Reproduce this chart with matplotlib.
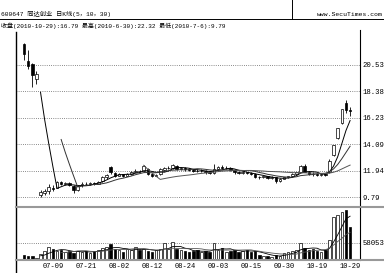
import numpy as np
import pandas as pd
import matplotlib
matplotlib.use("Agg")
import matplotlib.pyplot as plt
from matplotlib.lines import Line2D

# ---------------- data ----------------
holidays = ["2010-09-22", "2010-09-23", "2010-09-24", "2010-10-01",
            "2010-10-04", "2010-10-05", "2010-10-06", "2010-10-07"]
dates = [d for d in pd.bdate_range("2010-06-30", "2010-10-29")
         if d.strftime("%Y-%m-%d") not in holidays]

opens = [22.20, 20.85, 20.60, 19.40, 10.00, 10.15, 10.30, 10.55, 10.55, 11.00,
         10.85, 10.95, 10.70, 10.40, 10.75, 10.90, 10.85, 10.95, 10.90, 11.10,
         11.40, 12.25, 11.75, 11.55, 11.65, 11.55, 11.70, 11.85, 11.95, 11.90,
         12.10, 11.70, 11.55, 11.65, 12.00, 12.15, 12.15, 12.35, 12.05, 12.20,
         12.05, 12.00, 11.95, 11.90, 11.95, 11.80, 11.75, 12.05, 12.25, 12.15,
         12.20, 12.00, 11.80, 11.75, 11.80, 11.75, 11.70, 11.45, 11.40, 11.50,
         11.35, 11.40, 11.10, 11.30, 11.40, 11.50, 11.70, 11.85, 12.35, 11.85,
         11.70, 11.65, 11.60, 11.65, 11.85, 13.20, 14.60, 15.80, 17.45, 16.85]
highs = [22.32, 21.70, 20.70, 20.00, 10.35, 10.45, 10.85, 10.80, 11.10, 11.10,
         11.05, 11.00, 10.75, 10.75, 11.00, 11.00, 11.00, 11.05, 11.10, 11.55,
         11.70, 12.35, 11.85, 11.75, 11.70, 11.75, 11.95, 12.05, 12.00, 12.40,
         12.15, 11.75, 11.70, 12.20, 12.25, 12.30, 12.50, 12.40, 12.25, 12.25,
         12.15, 12.10, 12.05, 12.05, 12.00, 11.90, 12.45, 12.35, 12.40, 12.30,
         12.25, 12.05, 11.90, 11.90, 11.85, 11.85, 11.75, 11.55, 11.55, 11.55,
         11.50, 11.45, 11.35, 11.45, 11.55, 11.75, 11.85, 12.40, 12.45, 11.90,
         11.80, 11.75, 11.75, 11.70, 12.85, 14.00, 15.40, 16.94, 17.70, 17.10]
lows = [20.95, 20.20, 18.70, 19.00, 9.79, 10.00, 10.05, 10.30, 10.50, 10.80,
        10.75, 10.70, 10.15, 10.30, 10.65, 10.75, 10.80, 10.80, 10.85, 11.00,
        11.30, 11.70, 11.45, 11.50, 11.45, 11.50, 11.60, 11.80, 11.80, 11.85,
        11.60, 11.45, 11.50, 11.60, 11.95, 12.05, 12.10, 12.00, 12.00, 11.95,
        11.90, 11.85, 11.80, 11.85, 11.70, 11.65, 11.70, 12.00, 12.05, 12.05,
        11.95, 11.70, 11.65, 11.70, 11.65, 11.60, 11.35, 11.30, 11.35, 11.30,
        11.30, 10.95, 11.05, 11.25, 11.35, 11.45, 11.60, 11.80, 11.80, 11.60,
        11.55, 11.50, 11.55, 11.50, 11.75, 13.10, 14.50, 15.70, 16.60, 16.40]
closes = [21.40, 20.40, 19.70, 19.80, 10.20, 10.30, 10.60, 10.45, 11.00, 10.85,
          10.95, 10.75, 10.40, 10.70, 10.90, 10.85, 10.95, 10.90, 11.05, 11.45,
          11.60, 11.80, 11.55, 11.65, 11.55, 11.70, 11.85, 11.95, 11.90, 12.30,
          11.70, 11.55, 11.60, 12.10, 12.15, 12.20, 12.40, 12.05, 12.20, 12.05,
          12.00, 11.95, 11.90, 11.95, 11.80, 11.75, 12.10, 12.25, 12.15, 12.20,
          12.00, 11.80, 11.75, 11.80, 11.75, 11.70, 11.45, 11.40, 11.50, 11.35,
          11.45, 11.10, 11.30, 11.40, 11.50, 11.70, 11.80, 12.30, 11.85, 11.70,
          11.65, 11.60, 11.65, 11.60, 12.73, 14.00, 15.40, 16.94, 16.90, 16.79]
volumes = [16800, 13400, 13400, 6700, 20100, 30200, 43600, 36900, 30200, 33600,
           26800, 30200, 23500, 30200, 26800, 30200, 23500, 30200, 33600, 40300,
           43600, 53700, 36900, 33600, 26800, 36900, 33600, 43600, 33600, 36900,
           30200, 26800, 33600, 36900, 57100, 36900, 60400, 36900, 33600, 30200,
           26800, 30200, 33600, 26800, 30200, 26800, 57100, 33600, 40300, 26800,
           30200, 33600, 26800, 30200, 33600, 26800, 30200, 16800, 13400, 13400,
           10100, 16800, 13400, 23500, 26800, 30200, 33600, 57100, 40300, 33600,
           36900, 30200, 26800, 33600, 67100, 144300, 151000, 161100, 167800, 110700]

price_ticks = [9.79, 11.94, 14.09, 16.23, 18.38, 20.53]
vol_tick = 58053
tick_dates = ["2010-07-09", "2010-07-21", "2010-08-02", "2010-08-12", "2010-08-24",
              "2010-09-03", "2010-09-15", "2010-09-30", "2010-10-19", "2010-10-29"]
header1 = "600647 同达创业 日K线(5，10，30)"
header2 = "收盘(2010-10-29):16.79 最高(2010-6-30):22.32 最低(2010-7-6):9.79"
site = "www.SecuTimes.com"

# ---------------- figure ----------------
W, H = 384, 273
fig = plt.figure(figsize=(W / 100, H / 100), dpi=100)
fig.patch.set_facecolor("white")

def fx(px):
    return px / W

def fy(py):
    return 1 - py / H

L, R = 16, 360
P_TOP, P_BOT = 32, 207
V_TOP, V_BOT = 207, 260

ax_p = fig.add_axes([fx(L), fy(P_BOT), fx(R - L), (P_BOT - P_TOP) / H])
ax_v = fig.add_axes([fx(L), fy(V_BOT), fx(R - L), (V_BOT - V_TOP) / H], sharex=ax_p)

df = pd.DataFrame({"o": opens, "h": highs, "l": lows, "c": closes, "v": volumes},
                  index=pd.DatetimeIndex(dates))
x = np.arange(len(df))
up = df["c"].values >= df["o"].values

num_font = ["Liberation Mono", "Noto Sans CJK SC"]
cjk_font = ["Liberation Mono", "Noto Sans CJK SC", "DejaVu Sans"]

# candles
ax_p.vlines(x, df["l"], df["h"], color="black", lw=0.6, zorder=2)
body_h = np.maximum(np.abs(df["c"] - df["o"]).values, 0.03)
body_b = np.minimum(df["c"], df["o"]).values
ax_p.bar(x, body_h, bottom=body_b, width=0.62,
         color=np.where(up, "white", "black"), edgecolor="black", linewidth=0.5, zorder=3)

# moving averages
for n, col in [(5, "#000000"), (10, "#333333"), (30, "#555555")]:
    ax_p.plot(x, df["c"].rolling(n).mean(), color=col, lw=0.7, zorder=4)

ax_p.set_xlim(-1.94, 81.4)
ax_p.set_ylim(9.0, 23.18)
ax_p.set_yticks(price_ticks)
ax_p.set_yticklabels([f"{t:.2f}" for t in price_ticks], family=num_font, fontsize=5.2)
ax_p.yaxis.tick_right()
ax_p.tick_params(axis="y", length=0, pad=2)
ax_p.tick_params(axis="x", length=0, labelbottom=False)
ax_p.grid(axis="y", linestyle=(0, (1, 1.6)), color="#666666", lw=0.6)
for s in ax_p.spines.values():
    s.set_visible(False)

# volume
ax_v.bar(x, df["v"], width=0.62, color=np.where(up, "white", "black"),
         edgecolor="black", linewidth=0.5, zorder=3)
ax_v.plot(x, df["v"].rolling(5).mean(), color="#000000", lw=0.6, zorder=4)
ax_v.plot(x, df["v"].rolling(10).mean(), color="#555555", lw=0.6, zorder=4)
ax_v.set_ylim(0, 177900)
ax_v.set_yticks([vol_tick])
ax_v.set_yticklabels([str(vol_tick)], family=num_font, fontsize=5.2)
ax_v.yaxis.tick_right()
ax_v.tick_params(axis="y", length=0, pad=2)
ax_v.grid(axis="y", linestyle=(0, (1, 1.6)), color="#666666", lw=0.6)
tick_idx = [dates.index(pd.Timestamp(d)) for d in tick_dates]
ax_v.set_xticks(tick_idx)
ax_v.set_xticklabels([pd.Timestamp(d).strftime("%m-%d") for d in tick_dates],
                     family=num_font, fontsize=5.0)
ax_v.tick_params(axis="x", length=0, pad=2.5)
for s in ax_v.spines.values():
    s.set_visible(False)

# frame lines
def fline(x0, y0, x1, y1, **kw):
    fig.add_artist(Line2D([fx(x0), fx(x1)], [fy(y0), fy(y1)], **kw))

fline(0, 19, W, 19, color="black", lw=0.7)
fline(292, 0, 292, 19, color="black", lw=0.7)
fline(L, P_TOP, L, H, color="black", lw=1.0)
fline(R, 30, R, V_BOT, color="black", lw=0.8)
fline(L, P_BOT, W, P_BOT, color="#999999", lw=1.5)
fline(L, V_BOT, W, V_BOT, color="#999999", lw=1.5)

# header text
fig.text(fx(1), fy(14), header1, family=cjk_font, fontsize=4.5, va="center", ha="left")
fig.text(fx(383), fy(14), site, family=num_font, fontsize=4.6, va="center", ha="right")
fig.text(fx(1), fy(25.5), header2, family=cjk_font, fontsize=4.35, va="center", ha="left")

fig.savefig("out.png", dpi=100)
